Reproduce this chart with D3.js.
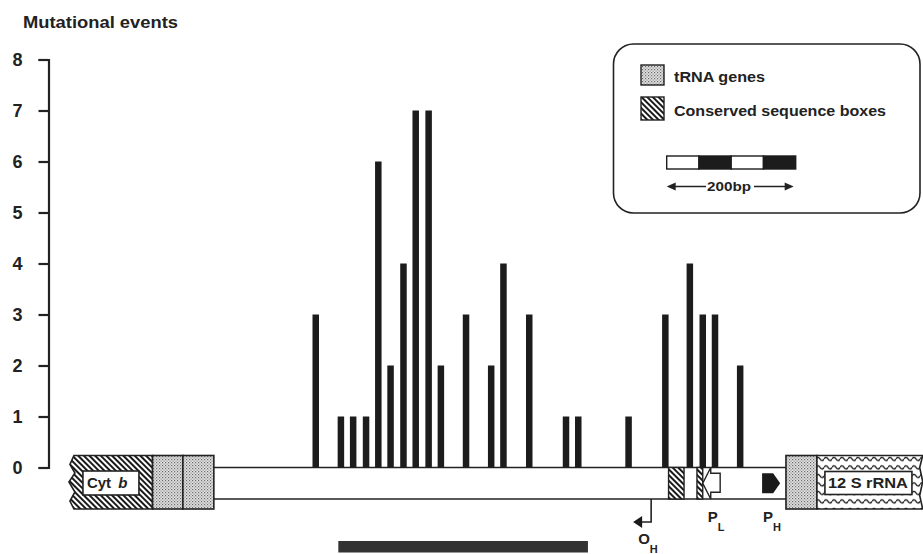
<!DOCTYPE html>
<html>
<head>
<meta charset="utf-8">
<script src="https://cdn.jsdelivr.net/npm/d3@7"></script>
<style>
  body { margin: 0; background: #fff; }
  svg { display: block; font-family: "Liberation Sans", Arial, sans-serif; }
</style>
</head>
<body>
<div class="container"></div>
<script>
// mutational events along the control region (positions in bp from left edge of the map)
var sitePositions = [381, 420, 439, 459, 478, 497, 517, 536, 556, 575, 614, 653, 672, 712, 769, 788, 866, 923, 961, 981, 1000, 1039];
var eventCounts   = [3, 1, 1, 1, 6, 2, 4, 7, 7, 2, 3, 2, 4, 3, 1, 1, 1, 3, 4, 3, 3, 2];
var yTicks = [0, 1, 2, 3, 4, 5, 6, 7, 8];

// gene map features, [start, end] in bp
var cytB = [3, 128];
var trnaBlocks = [[128, 175], [175, 223], [1110, 1158]];
var csbBlocks = [[928, 952], [972, 981]];
var rrna12S = [1158, 1322];
var channel = [223, 1110];
var oH = 901;
var pL = [981, 1008];
var pH = [1073, 1101];
var hypervariable = [416, 803];
var scaleSegments = [0, 50, 100, 150, 200];

var W = 923, H = 554;
var svg = d3.select('.container').append('svg').attr("width", W).attr("height", H);
var defs = svg.append("defs");

var x = d3.scaleLinear().domain([0, 1322]).range([70, 922.7]);
var y = d3.scaleLinear().domain([0, 8]).range([467.5, 59.5]);

// patterns
var dots = defs.append("pattern").attr("id", "dots").attr("patternUnits", "userSpaceOnUse")
  .attr("width", 3).attr("height", 3);
dots.append("rect").attr("width", 3).attr("height", 3).attr("fill", "#e2e2e2");
dots.append("rect").attr("x", 0).attr("y", 0).attr("width", 1.2).attr("height", 1.2).attr("fill", "#6a6a6a");
dots.append("rect").attr("x", 1.5).attr("y", 1.5).attr("width", 1.2).attr("height", 1.2).attr("fill", "#8a8a8a");

var hatch = defs.append("pattern").attr("id", "hatch").attr("patternUnits", "userSpaceOnUse")
  .attr("width", 4).attr("height", 4).attr("patternTransform", "rotate(-45)");
hatch.append("rect").attr("width", 4).attr("height", 4).attr("fill", "#fff");
hatch.append("rect").attr("width", 2).attr("height", 4).attr("fill", "#1a1a1a");

var wave = defs.append("pattern").attr("id", "wave").attr("patternUnits", "userSpaceOnUse")
  .attr("width", 8).attr("height", 8.5).attr("y", 455);
wave.append("rect").attr("width", 8).attr("height", 8.5).attr("fill", "#fff");
wave.append("path").attr("d", "M0,4 Q2,0.8 4,4 T8,4").attr("fill", "none")
  .attr("stroke", "#1a1a1a").attr("stroke-width", 1.3);

// title
svg.append("text").attr("x", 23).attr("y", 28).attr("font-size", 17).attr("font-weight", "bold")
  .attr("textLength", 155).attr("lengthAdjust", "spacingAndGlyphs")
  .attr("fill", "#222").text("Mutational events");

// y axis
var yAxis = d3.axisLeft(y).tickValues(yTicks).tickSize(10).tickSizeOuter(10).tickPadding(16)
  .tickFormat(d3.format("d"));
var ga = svg.append("g").attr("transform", "translate(48.5,0)").call(yAxis);
ga.select(".domain").attr("stroke", "#222").attr("stroke-width", 2.2);
ga.selectAll(".tick line").attr("stroke", "#222").attr("stroke-width", 2.2);
ga.selectAll(".tick text").attr("font-size", 18).attr("font-weight", "bold")
  .attr("font-family", "Liberation Sans, Arial, sans-serif").attr("fill", "#222");

// gene map
var chTop = 467.5, chBot = 499, boxTop = 455.5, boxBot = 509;

// control region channel
svg.append("rect").attr("x", x(channel[0])).attr("y", chTop).attr("width", x(channel[1]) - x(channel[0]))
  .attr("height", chBot - chTop).attr("fill", "#fff");
[chTop, chBot].forEach(function(yy){
  svg.append("line").attr("x1", x(channel[0])).attr("x2", x(channel[1])).attr("y1", yy).attr("y2", yy)
    .attr("stroke", "#222").attr("stroke-width", 1.6);
});

// cyt b with broken left edge
var cx0 = x(cytB[0]), cx1 = x(cytB[1]);
var cytPts = [[cx0 + 2, boxTop], [cx1, boxTop], [cx1, boxBot], [cx0 + 2, boxBot], [cx0 - 2, boxBot - 8],
  [cx0 + 3, boxBot - 17], [cx0 - 3, boxBot - 27], [cx0 + 3, boxBot - 36], [cx0 - 2, boxTop + 9]];
svg.append("polygon").attr("points", cytPts.join(" ")).attr("fill", "url(#hatch)")
  .attr("stroke", "#222").attr("stroke-width", 1.6);
svg.append("rect").attr("x", cx0 + 11).attr("y", 471).attr("width", 56).attr("height", 24)
  .attr("fill", "#fff").attr("stroke", "#222").attr("stroke-width", 1.6);
var cytText = svg.append("text").attr("x", cx0 + 15).attr("y", 488).attr("font-size", 15)
  .attr("font-weight", "bold").attr("fill", "#222");
cytText.append("tspan").text("Cyt ");
cytText.append("tspan").attr("font-style", "italic").attr("dx", 3).text("b");

// tRNA blocks
trnaBlocks.forEach(function(b){
  svg.append("rect").attr("x", x(b[0])).attr("y", boxTop).attr("width", x(b[1]) - x(b[0]))
    .attr("height", boxBot - boxTop).attr("fill", "url(#dots)").attr("stroke", "#222").attr("stroke-width", 1.6);
});

// 12S rRNA
var rx0 = x(rrna12S[0]), rx1 = x(rrna12S[1]);
var rPts = [[rx0, boxTop], [rx1, boxTop], [rx1 - 3, boxTop + 12], [rx1, boxTop + 26], [rx1 - 3, boxTop + 40],
  [rx1, boxBot], [rx0, boxBot]];
svg.append("polygon").attr("points", rPts.join(" ")).attr("fill", "url(#wave)")
  .attr("stroke", "#222").attr("stroke-width", 1.6);
svg.append("rect").attr("x", rx0 + 8).attr("y", 471.5).attr("width", 87).attr("height", 23)
  .attr("fill", "#fff").attr("stroke", "#222").attr("stroke-width", 1.6);
svg.append("text").attr("x", rx0 + 11).attr("y", 488).attr("font-size", 15).attr("font-weight", "bold")
  .attr("textLength", 80).attr("lengthAdjust", "spacingAndGlyphs").attr("fill", "#222").text("12 S rRNA");

// conserved sequence boxes
csbBlocks.forEach(function(b){
  svg.append("rect").attr("x", x(b[0])).attr("y", chTop).attr("width", x(b[1]) - x(b[0]))
    .attr("height", chBot - chTop).attr("fill", "url(#hatch)").attr("stroke", "#222").attr("stroke-width", 1.4);
});

// P_L promoter (open arrow pointing left)
var l0 = x(pL[0]), l1 = x(pL[1]), mid = (chTop + chBot) / 2;
svg.append("polygon").attr("points", [[l0, mid], [l0 + 8, chTop], [l0 + 8, mid - 10], [l1, mid - 10],
  [l1, mid + 9], [l0 + 8, mid + 9], [l0 + 8, chBot]].join(" "))
  .attr("fill", "#fff").attr("stroke", "#222").attr("stroke-width", 1.4);

// P_H promoter (filled arrow pointing right)
var h0 = x(pH[0]), h1 = x(pH[1]);
svg.append("polygon").attr("points", [[h0, mid - 10], [h1 - 7, mid - 10], [h1, mid], [h1 - 7, mid + 10],
  [h0, mid + 10]].join(" ")).attr("fill", "#1a1a1a");

// O_H origin arrow
var ox = x(oH);
svg.append("path").attr("d", "M" + ox + "," + chBot + "V522H" + (ox - 10)).attr("fill", "none")
  .attr("stroke", "#222").attr("stroke-width", 1.6);
svg.append("polygon").attr("points", [[ox - 18, 522], [ox - 9, 516], [ox - 9, 528]].join(" ")).attr("fill", "#1a1a1a");

function subLabel(xx, yy, main, sub){
  var t = svg.append("text").attr("x", xx).attr("y", yy).attr("font-size", 15).attr("font-weight", "bold").attr("fill", "#222");
  t.append("tspan").text(main);
  t.append("tspan").attr("dy", 9).attr("font-size", 11).text(sub);
}
subLabel(ox - 13, 544, "O", "H");
subLabel(l0 + 5, 522, "P", "L");
subLabel(h0 + 1, 522, "P", "H");

// hypervariable segment bar
svg.append("rect").attr("x", x(hypervariable[0])).attr("y", 541).attr("width", x(hypervariable[1]) - x(hypervariable[0]))
  .attr("height", 11.5).attr("fill", "#333");

// event bars
var bw = 6.5;
svg.selectAll("rect.bar").data(sitePositions).enter().append("rect").attr("class", "bar")
  .attr("x", function(d){ return x(d) - bw / 2; })
  .attr("y", function(d, i){ return y(eventCounts[i]); })
  .attr("width", bw)
  .attr("height", function(d, i){ return y(0) - y(eventCounts[i]); })
  .attr("fill", "#1c1c1c");

// legend
var lg = svg.append("g");
lg.append("rect").attr("x", 613.5).attr("y", 44).attr("width", 306.5).attr("height", 169).attr("rx", 20)
  .attr("fill", "none").attr("stroke", "#222").attr("stroke-width", 1.6);
lg.append("rect").attr("x", 641).attr("y", 65).attr("width", 23).attr("height", 20)
  .attr("fill", "url(#dots)").attr("stroke", "#222").attr("stroke-width", 1.4);
lg.append("rect").attr("x", 641).attr("y", 97).attr("width", 23).attr("height", 23)
  .attr("fill", "url(#hatch)").attr("stroke", "#222").attr("stroke-width", 1.4);
lg.append("text").attr("x", 674).attr("y", 81.5).attr("font-size", 15).attr("font-weight", "bold")
  .attr("textLength", 91).attr("lengthAdjust", "spacingAndGlyphs").attr("fill", "#222").text("tRNA genes");
lg.append("text").attr("x", 674).attr("y", 115.5).attr("font-size", 15).attr("font-weight", "bold")
  .attr("textLength", 212).attr("lengthAdjust", "spacingAndGlyphs").attr("fill", "#222").text("Conserved sequence boxes");

// 200 bp scale bar
var s = d3.scaleLinear().domain([0, 1322]).range([0, 852.7]);
var sx = 666.7;
d3.pairs(scaleSegments).forEach(function(p, i){
  lg.append("rect").attr("x", sx + s(p[0])).attr("y", 156).attr("width", s(p[1]) - s(p[0])).attr("height", 13)
    .attr("fill", i % 2 ? "#1c1c1c" : "#fff").attr("stroke", "#1c1c1c").attr("stroke-width", 1.4);
});
var sEnd = sx + s(200);
lg.append("line").attr("x1", sx + 6).attr("x2", 706).attr("y1", 186.5).attr("y2", 186.5).attr("stroke", "#222").attr("stroke-width", 1.5);
lg.append("line").attr("x1", 754).attr("x2", sEnd - 6).attr("y1", 186.5).attr("y2", 186.5).attr("stroke", "#222").attr("stroke-width", 1.5);
lg.append("polygon").attr("points", [[sx, 186.5], [sx + 9, 182.5], [sx + 9, 190.5]].join(" ")).attr("fill", "#222");
lg.append("polygon").attr("points", [[sEnd - 2, 186.5], [sEnd - 11, 182.5], [sEnd - 11, 190.5]].join(" ")).attr("fill", "#222");
lg.append("text").attr("x", 707).attr("y", 190.5).attr("font-size", 12).attr("font-weight", "bold")
  .attr("textLength", 44).attr("lengthAdjust", "spacingAndGlyphs").attr("fill", "#222").text("200bp");
</script>
</body>
</html>
